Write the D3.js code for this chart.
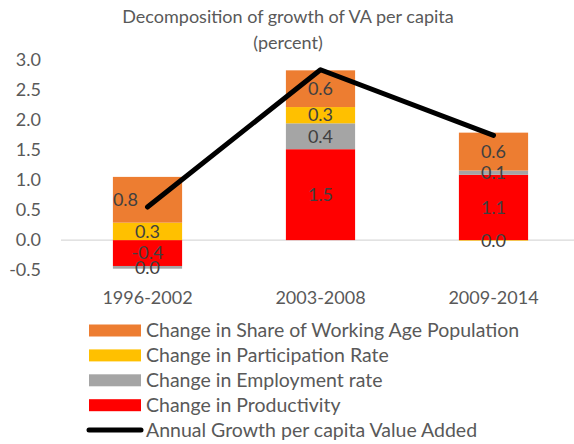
<!DOCTYPE html>
<html lang="en">
<head>
    <meta charset="UTF-8">
    <title>Decomposition of growth of VA per capita</title>
    <style>
        body {
            margin: 0;
            padding: 0;
            background: #fff;
        }
        svg text {
            font-family: Lato, "Noto Sans", sans-serif;
        }
        .axis text {
            fill: #595959;
            font-size: 18px;
        }
        .label {
            fill: #404040;
            font-size: 18px;
            text-anchor: middle;
        }
    </style>
</head>
<body>
    <div id="chart"></div>
    <script src="https://d3js.org/d3.v7.min.js"></script>
    <script>
        const periods = ["1996-2002", "2003-2008", "2009-2014"];
        const seriesNames = [
            "Change in Productivity",
            "Change in Employment rate",
            "Change in Participation Rate",
            "Change in Share of Working Age Population"
        ];
        const productivity = [-0.43, 1.51, 1.085];
        const employment = [-0.045, 0.43, 0.07];
        const participation = [0.29, 0.27, -0.01];
        const workingAge = [0.76, 0.61, 0.63];
        const growthLine = [0.55, 2.83, 1.74];
        const lineName = "Annual Growth per capita Value Added";
        const yTicks = [-0.5, 0, 0.5, 1, 1.5, 2, 2.5, 3];

        const colors = ["#FF0000", "#A5A5A5", "#FFC000", "#ED7D31"];
        const width = 574, height = 444;

        const rows = periods.map((p, i) => ({
            period: p,
            [seriesNames[0]]: productivity[i],
            [seriesNames[1]]: employment[i],
            [seriesNames[2]]: participation[i],
            [seriesNames[3]]: workingAge[i]
        }));

        const svg = d3.select("#chart").append("svg")
            .attr("width", width)
            .attr("height", height);

        const x = d3.scaleBand()
            .domain(periods)
            .range([61, 580])
            .paddingInner(0.6)
            .paddingOuter(0.3);

        const y = d3.scaleLinear()
            .domain([-0.5, 3])
            .range([270.2, 59.5]);

        const fmt = d3.formatLocale({ decimal: ".", thousands: ",", grouping: [3], currency: ["", ""], minus: "-" }).format(".1f");

        // title
        svg.append("text")
            .attr("x", 288).attr("y", 23)
            .attr("text-anchor", "middle")
            .style("font-size", "18px").style("fill", "#595959")
            .text("Decomposition of growth of VA per capita");
        svg.append("text")
            .attr("x", 288).attr("y", 49)
            .attr("text-anchor", "middle")
            .style("font-size", "18px").style("fill", "#595959")
            .text("(percent)");

        // y axis
        const yAxis = svg.append("g")
            .attr("class", "axis")
            .attr("transform", "translate(61,0)")
            .call(d3.axisLeft(y).tickValues(yTicks).tickSize(0).tickPadding(20));
        yAxis.select(".domain").remove();
        yAxis.selectAll("text").text(d => fmt(d));

        // zero line
        svg.append("line")
            .attr("x1", 61).attr("x2", width)
            .attr("y1", y(0)).attr("y2", y(0))
            .attr("stroke", "#d9d9d9")
            .attr("stroke-width", 1.2);

        const stack = d3.stack()
            .keys(seriesNames)
            .offset(d3.stackOffsetDiverging);
        const stacked = stack(rows);

        const groups = svg.selectAll(".series")
            .data(stacked)
            .enter().append("g")
            .attr("class", "series")
            .attr("fill", (d, i) => colors[i]);

        groups.selectAll("rect")
            .data(d => d)
            .enter().append("rect")
            .attr("x", d => x(d.data.period))
            .attr("width", x.bandwidth())
            .attr("y", d => y(Math.max(d[0], d[1])))
            .attr("height", d => Math.abs(y(d[0]) - y(d[1])));

        // x labels
        svg.selectAll(".xlab")
            .data(periods)
            .enter().append("text")
            .attr("x", d => x(d) + x.bandwidth() / 2)
            .attr("y", 304)
            .attr("text-anchor", "middle")
            .style("font-size", "18px").style("fill", "#595959")
            .text(d => d);

        // line
        const line = d3.line()
            .x((d, i) => x(periods[i]) + x.bandwidth() / 2)
            .y(d => y(d));
        svg.append("path")
            .datum(growthLine)
            .attr("d", line)
            .attr("fill", "none")
            .attr("stroke", "#000")
            .attr("stroke-width", 5)
            .attr("stroke-linecap", "round")
            .attr("stroke-linejoin", "round");

        // data labels (the first 0.8 label is nudged left, as in the original)
        stacked.forEach((s, si) => {
            svg.selectAll(".lab" + si)
                .data(s)
                .enter().append("text")
                .attr("class", "label")
                .attr("x", (d, i) => x(d.data.period) + x.bandwidth() / 2 - (si === 3 && i === 0 ? 22 : 0))
                .attr("y", d => y((d[0] + d[1]) / 2))
                .attr("dy", "0.35em")
                .text(d => fmt(d.data[s.key]));
        });

        // legend
        const legendItems = seriesNames.slice().reverse();
        const legendColors = colors.slice().reverse();
        const legend = svg.append("g");
        legendItems.forEach((name, i) => {
            const cy = 330.5 + i * 24.9;
            legend.append("rect")
                .attr("x", 89).attr("y", cy - 6)
                .attr("width", 52).attr("height", 12)
                .attr("fill", legendColors[i]);
            legend.append("text")
                .attr("x", 146).attr("y", cy)
                .attr("dy", "0.35em")
                .style("font-size", "19.5px").style("fill", "#595959")
                .text(name);
        });
        const ly = 330.5 + 4 * 24.9;
        legend.append("line")
            .attr("x1", 89).attr("x2", 141)
            .attr("y1", ly).attr("y2", ly)
            .attr("stroke", "#000").attr("stroke-width", 5)
            .attr("stroke-linecap", "round");
        legend.append("text")
            .attr("x", 146).attr("y", ly)
            .attr("dy", "0.35em")
            .style("font-size", "19.5px").style("fill", "#595959")
            .text(lineName);
    </script>
</body>
</html>
